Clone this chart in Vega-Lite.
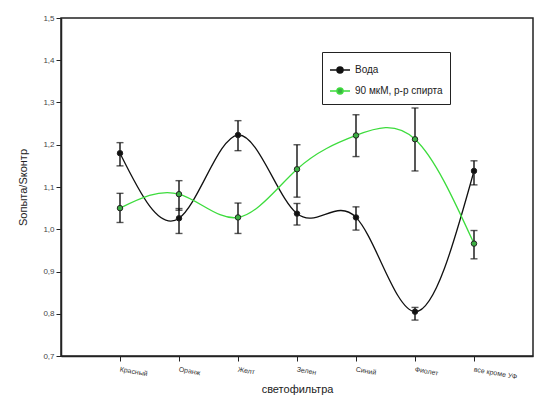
{
  "$schema": "https://vega.github.io/schema/vega-lite/v6.json",
  "width": 472,
  "height": 338,
  "autosize": {"type": "none"},
  "padding": {"left": 61, "top": 18, "right": 19, "bottom": 54},
  "background": "white",
  "config": {
    "view": {"stroke": "#222", "strokeWidth": 1.5},
    "font": "Liberation Sans"
  },
  "data": {
    "values": [
      {"filter": "Красный", "series": "Вода", "y": 1.18, "lo": 1.15, "hi": 1.205},
      {"filter": "Оранж", "series": "Вода", "y": 1.026, "lo": 0.99, "hi": 1.049},
      {"filter": "Желт", "series": "Вода", "y": 1.223, "lo": 1.186, "hi": 1.257},
      {"filter": "Зелен", "series": "Вода", "y": 1.037, "lo": 1.01, "hi": 1.061},
      {"filter": "Синий", "series": "Вода", "y": 1.028, "lo": 0.998, "hi": 1.053},
      {"filter": "Фиолет", "series": "Вода", "y": 0.805, "lo": 0.785, "hi": 0.815},
      {"filter": "все кроме УФ", "series": "Вода", "y": 1.138, "lo": 1.105, "hi": 1.162},
      {"filter": "Красный", "series": "90 мкМ, р-р спирта", "y": 1.05, "lo": 1.016, "hi": 1.085},
      {"filter": "Оранж", "series": "90 мкМ, р-р спирта", "y": 1.083, "lo": 1.045, "hi": 1.115},
      {"filter": "Желт", "series": "90 мкМ, р-р спирта", "y": 1.028, "lo": 0.99, "hi": 1.062},
      {"filter": "Зелен", "series": "90 мкМ, р-р спирта", "y": 1.142, "lo": 1.076, "hi": 1.2},
      {"filter": "Синий", "series": "90 мкМ, р-р спирта", "y": 1.222, "lo": 1.172, "hi": 1.271},
      {"filter": "Фиолет", "series": "90 мкМ, р-р спирта", "y": 1.213, "lo": 1.138, "hi": 1.287},
      {"filter": "все кроме УФ", "series": "90 мкМ, р-р спирта", "y": 0.966, "lo": 0.93, "hi": 0.997}
    ]
  },
  "encoding": {
    "x": {
      "field": "filter",
      "type": "ordinal",
      "sort": null,
      "scale": {"type": "point", "padding": 1},
      "axis": {
        "title": "светофильтра",
        "titleFont": "Liberation Sans",
        "titleFontWeight": "normal",
        "titleFontSize": 11,
        "titleColor": "#222",
        "titlePadding": 4,
        "labelAngle": 10,
        "labelAlign": "left",
        "labelBaseline": "top",
        "labelFontSize": 7,
        "labelColor": "#333",
        "labelPadding": 4,
        "tickColor": "#222",
        "tickSize": 5,
        "domainColor": "#222",
        "domainWidth": 1.5,
        "grid": false
      }
    },
    "color": {
      "field": "series",
      "type": "nominal",
      "sort": ["Вода", "90 мкМ, р-р спирта"],
      "scale": {"domain": ["Вода", "90 мкМ, р-р спирта"], "range": ["#111111", "#3ddc3d"]},
      "legend": {
        "title": null,
        "orient": "none",
        "legendX": 261,
        "legendY": 34,
        "strokeColor": "#222",
        "padding": 7,
        "labelFontSize": 10,
        "labelColor": "#222",
        "labelLimit": 300,
        "symbolType": "M-1,0H-0.3M0.3,0H1M-0.3,0A0.3,0.3 0 1,0 0.3,0A0.3,0.3 0 1,0 -0.3,0",
        "symbolSize": 400,
        "symbolStrokeWidth": 1.5,
        "symbolFillColor": "transparent",
        "rowPadding": 4
      }
    }
  },
  "layer": [
    {
      "mark": {"type": "line", "interpolate": "natural", "strokeWidth": 1.3},
      "encoding": {
        "y": {
          "field": "y",
          "type": "quantitative",
          "scale": {"domain": [0.7, 1.5], "zero": false, "nice": false},
          "axis": {
            "title": "Sопыта/Sконтр",
            "titleFont": "Liberation Sans",
            "titleFontWeight": "normal",
            "titleFontSize": 11,
            "titleColor": "#222",
            "titlePadding": 14,
            "values": [0.7, 0.8, 0.9, 1.0, 1.1, 1.2, 1.3, 1.4, 1.5],
            "labelExpr": "replace(format(datum.value, '.1f'), '.', ',')",
            "labelFontSize": 8,
            "labelColor": "#444",
            "tickColor": "#222",
            "tickSize": 5,
            "domainColor": "#222",
            "domainWidth": 1.5,
            "grid": false
          }
        }
      }
    },
    {
      "mark": {"type": "rule", "strokeWidth": 1.4, "color": "#111"},
      "encoding": {
        "y": {"field": "lo", "type": "quantitative"},
        "y2": {"field": "hi"},
        "color": {"value": "#111"}
      }
    },
    {
      "mark": {"type": "tick", "thickness": 1.4, "size": 7, "orient": "horizontal", "color": "#111"},
      "encoding": {"y": {"field": "lo", "type": "quantitative"}, "color": {"value": "#111"}}
    },
    {
      "mark": {"type": "tick", "thickness": 1.4, "size": 7, "orient": "horizontal", "color": "#111"},
      "encoding": {"y": {"field": "hi", "type": "quantitative"}, "color": {"value": "#111"}}
    },
    {
      "mark": {"type": "point", "filled": true, "size": 30, "stroke": "#222", "strokeWidth": 1, "opacity": 1},
      "encoding": {
        "y": {"field": "y", "type": "quantitative"},
        "fill": {"field": "series", "type": "nominal", "scale": {"domain": ["Вода", "90 мкМ, р-р спирта"], "range": ["#111111", "#3cb043"]}, "legend": null}
      }
    }
  ]
}
